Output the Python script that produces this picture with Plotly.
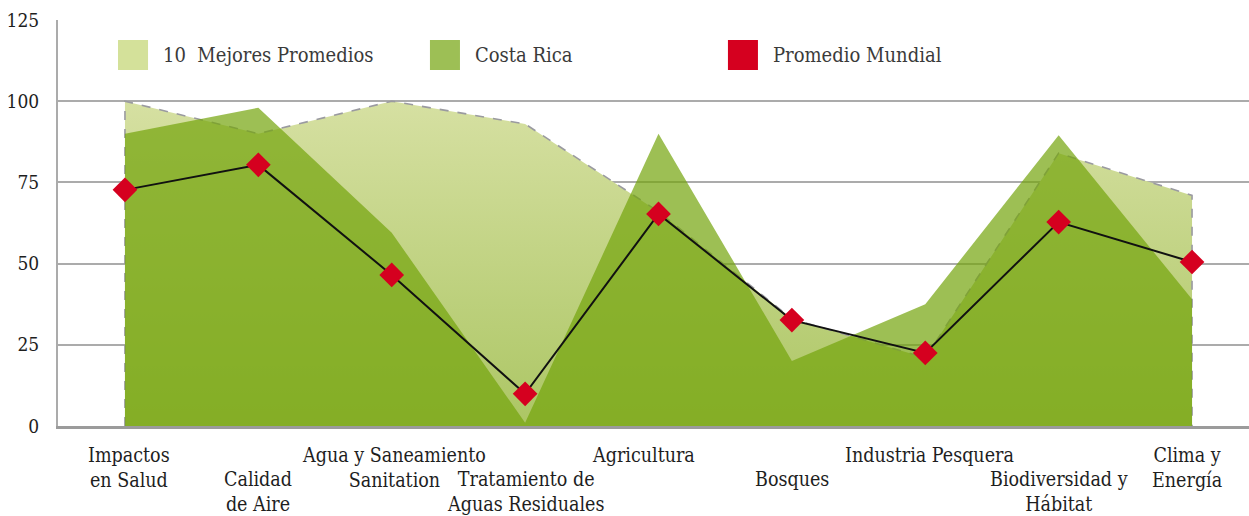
import plotly.graph_objects as go

# Environmental performance indicators
categories = [
    "Impactos<br>en Salud",
    "Calidad<br>de Aire",
    "Agua y Saneamiento<br>Sanitation",
    "Tratamiento de<br>Aguas Residuales",
    "Agricultura",
    "Bosques",
    "Industria Pesquera",
    "Biodiversidad y<br>Hábitat",
    "Clima y<br>Energía",
]
label_row = [0, 1, 0, 1, 0, 1, 0, 1, 0]          # staggered label rows
label_shift = [4, 0, 2, 0, -15, 0, 4, 0, -5]     # small horizontal nudges (px)

top_ten = [100, 90, 100, 93, 66, 33, 21, 84, 71]
costa_rica = [90, 98, 59.5, 1, 90, 20, 37.5, 89.5, 39]
world_avg = [72.7, 80.4, 46.5, 9.9, 65.3, 32.6, 22.5, 62.8, 50.5]

y_ticks = [0, 25, 50, 75, 100, 125]

FONT = "DejaVu Serif Condensed, DejaVu Serif, serif"
idx = list(range(len(categories)))

fig = go.Figure()

# Best-ten band: closed polygon so the dashed outline runs down both sides
fig.add_trace(go.Scatter(
    x=[idx[0]] + idx + [idx[-1]],
    y=[0] + top_ten + [0],
    mode="lines",
    fill="toself",
    fillgradient=dict(
        type="vertical",
        colorscale=[[0, "rgb(172,198,100)"], [1, "rgb(214,224,162)"]],
    ),
    line=dict(color="#9a9aa0", width=1.6, dash="dash"),
    hoverinfo="skip",
    showlegend=False,
))

# Costa Rica area, translucent over the band
fig.add_trace(go.Scatter(
    x=idx, y=costa_rica,
    mode="lines",
    fill="tozeroy",
    fillcolor="rgba(115,164,12,0.7)",
    line=dict(width=0),
    showlegend=False,
))

# World average line with diamond markers
fig.add_trace(go.Scatter(
    x=idx, y=world_avg,
    mode="lines+markers",
    line=dict(color="#111111", width=2),
    marker=dict(symbol="diamond", size=19, color="#d5001f"),
    showlegend=False,
))

annotations = []
for i, (lab, row, dx) in enumerate(zip(categories, label_row, label_shift)):
    annotations.append(dict(
        x=i, y=0, xref="x", yref="paper",
        text=lab, showarrow=False,
        xanchor="center", yanchor="top",
        yshift=-16 - 24 * row, xshift=dx,
        font=dict(family=FONT, size=19.5, color="#1e1e1e"),
    ))

# Legend drawn as swatches + labels along the top of the plot
legend_items = [
    ("10\u00a0 Mejores Promedios", "#d4e19a"),
    ("Costa Rica", "#9dbf55"),
    ("Promedio Mundial", "#d5001f"),
]
legend_x = [0.0504, 0.3123, 0.5625]
shapes = []
for (name, col), lx in zip(legend_items, legend_x):
    shapes.append(dict(
        type="rect", xref="paper", yref="paper",
        x0=lx, x1=lx + 0.0252, y0=0.8768, y1=0.9507,
        fillcolor=col, line=dict(width=0), layer="above",
    ))
    annotations.append(dict(
        x=lx + 0.0361, y=0.9138, xref="paper", yref="paper",
        text=name, showarrow=False,
        xanchor="left", yanchor="middle",
        font=dict(family=FONT, size=20, color="#3a3a3a"),
    ))

fig.update_layout(
    width=1249, height=516,
    margin=dict(l=58, r=0, t=20, b=90),
    paper_bgcolor="white",
    plot_bgcolor="white",
    showlegend=False,
    annotations=annotations,
    shapes=shapes,
    font=dict(family=FONT),
)

fig.update_xaxes(
    range=[-0.502, 8.427],
    showgrid=False, zeroline=False,
    showticklabels=False, ticks="",
    showline=True, linecolor="#9b9b9b", linewidth=3,
)
fig.update_yaxes(
    range=[0, 125],
    tickvals=y_ticks,
    ticktext=[str(v) for v in y_ticks],
    showgrid=True, gridcolor="#ababab", gridwidth=2,
    zeroline=False,
    showline=True, linecolor="#ababab", linewidth=2,
    ticks="", ticklabelstandoff=13,
    tickfont=dict(family=FONT, size=19, color="#1e1e1e"),
)

fig.write_html("out.html")
